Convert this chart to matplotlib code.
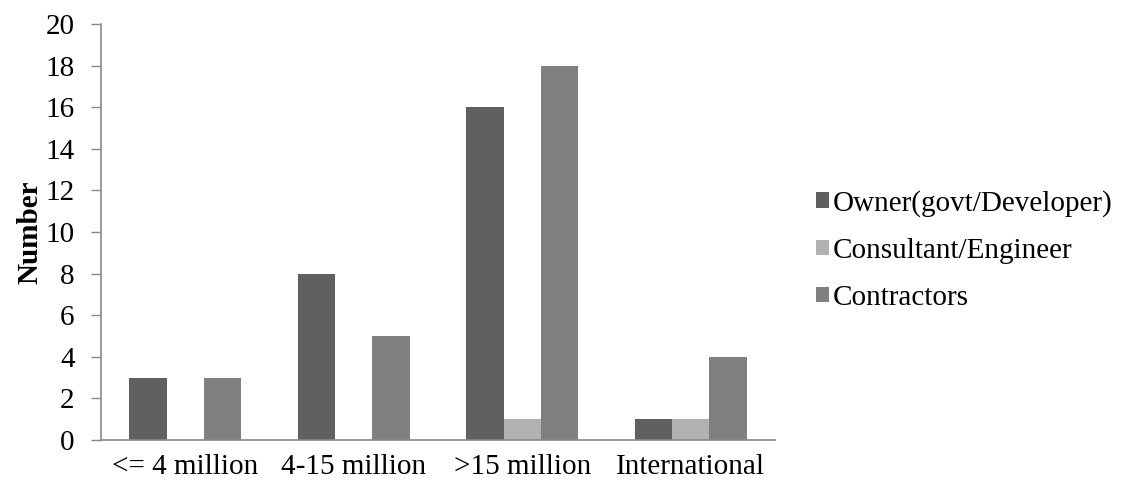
import matplotlib
matplotlib.use("Agg")
import matplotlib.pyplot as plt
import numpy as np

categories = ["<= 4 million", "4-15 million", ">15 million", "International"]
series_names = ["Owner(govt/Developer)", "Consultant/Engineer", "Contractors"]
owner = [3, 8, 16, 1]
consultant = [0, 0, 1, 1]
contractors = [3, 5, 18, 4]
colors = ["#606060", "#b2b2b2", "#808080"]

plt.rcParams['font.family'] = ['Liberation Serif', 'DejaVu Serif']
FS = 21

fig = plt.figure(figsize=(11.36, 4.88), dpi=100)
ax = fig.add_axes([0.0889, 0.0984, 0.5933, 0.8524])

x = np.arange(len(categories))
w = 1 / 4.5
handles = []
for i, (vals, name, c) in enumerate(zip([owner, consultant, contractors], series_names, colors)):
    h = ax.bar(x + (i - 1) * w, vals, width=w, color=c, label=name, linewidth=0)
    handles.append(h)

ax.set_xlim(-0.5, len(categories) - 0.5)
ax.set_ylim(0, 20)
ax.set_yticks(np.arange(0, 21, 2))
ax.set_xticks(x)
ax.set_xticklabels(categories, fontsize=FS)
ax.tick_params(axis='x', length=0, pad=10)
ax.tick_params(axis='y', labelsize=FS, length=7, width=1, color="#898989", direction='out', pad=12)
for s in ["top", "right"]:
    ax.spines[s].set_visible(False)
for s in ["left", "bottom"]:
    ax.spines[s].set_color("#898989")
    ax.spines[s].set_linewidth(1.2)
ax.set_ylabel("Number", fontsize=FS, fontweight='bold', labelpad=1)

fig.legend(handles=handles, labels=series_names, loc='center left',
           bbox_to_anchor=(0.718, 0.487), frameon=False, fontsize=FS,
           borderpad=0, borderaxespad=0,
           handlelength=0.45, handleheight=0.45, handletextpad=0.15, labelspacing=0.72)

fig.savefig("out.png", dpi=100)
